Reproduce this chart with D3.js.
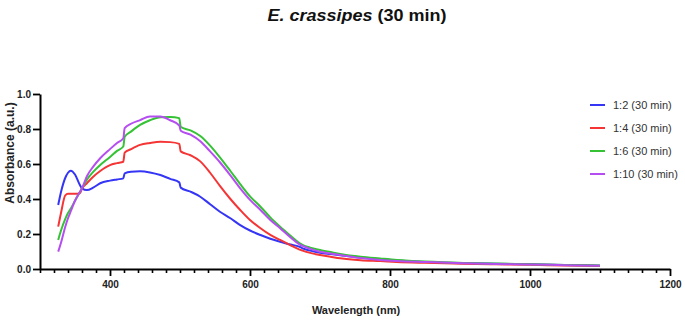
<!DOCTYPE html>
<html>
<head>
<meta charset="utf-8">
<script src="https://cdn.jsdelivr.net/npm/d3@7"></script>
<style>
  body { margin: 0; background: #fff; }
  svg { display: block; font-family: "Liberation Sans", Arial, sans-serif; }
</style>
</head>
<body>
<svg id="chart" width="685" height="322"></svg>
<script>
// wavelengths (nm) shared by all series; steps at 420 and 500 are lamp/detector switch artefacts
const wavelength = [326, 330, 336, 340, 344, 350, 357, 360, 367, 376, 386, 400, 410, 419, 421, 430, 443, 457, 472, 486, 499, 501, 515, 529, 543, 557, 572, 586, 600, 615, 629, 643, 658, 670, 675, 686, 700, 715, 729, 758, 786, 810, 850, 905, 950, 1001, 1050, 1100];

const ratio1to2 = [0.366, 0.44, 0.52, 0.55, 0.562, 0.54, 0.48, 0.461, 0.451, 0.465, 0.49, 0.505, 0.512, 0.518, 0.547, 0.556, 0.558, 0.552, 0.537, 0.515, 0.495, 0.465, 0.442, 0.413, 0.37, 0.327, 0.29, 0.251, 0.22, 0.194, 0.173, 0.156, 0.14, 0.128, 0.118, 0.105, 0.093, 0.085, 0.078, 0.065, 0.055, 0.048, 0.04, 0.033, 0.03, 0.027, 0.023, 0.019];
const ratio1to4 = [0.242, 0.32, 0.42, 0.43, 0.43, 0.43, 0.433, 0.46, 0.49, 0.527, 0.56, 0.594, 0.605, 0.613, 0.665, 0.685, 0.709, 0.72, 0.727, 0.725, 0.715, 0.672, 0.65, 0.615, 0.55, 0.475, 0.40, 0.337, 0.28, 0.233, 0.195, 0.166, 0.135, 0.112, 0.105, 0.092, 0.08, 0.07, 0.061, 0.05, 0.045, 0.04, 0.035, 0.03, 0.027, 0.024, 0.02, 0.017];
const ratio1to6 = [0.166, 0.22, 0.285, 0.32, 0.345, 0.39, 0.44, 0.461, 0.51, 0.555, 0.594, 0.64, 0.675, 0.70, 0.756, 0.785, 0.823, 0.85, 0.867, 0.868, 0.862, 0.812, 0.792, 0.76, 0.705, 0.638, 0.56, 0.485, 0.415, 0.356, 0.295, 0.242, 0.19, 0.15, 0.138, 0.122, 0.109, 0.097, 0.086, 0.07, 0.06, 0.052, 0.043, 0.035, 0.031, 0.027, 0.023, 0.02];
const ratio1to10 = [0.099, 0.15, 0.24, 0.29, 0.33, 0.39, 0.44, 0.461, 0.53, 0.585, 0.633, 0.685, 0.72, 0.747, 0.805, 0.83, 0.851, 0.872, 0.872, 0.85, 0.82, 0.79, 0.768, 0.73, 0.672, 0.61, 0.535, 0.461, 0.395, 0.337, 0.28, 0.233, 0.18, 0.142, 0.132, 0.115, 0.099, 0.089, 0.08, 0.063, 0.052, 0.046, 0.04, 0.033, 0.029, 0.026, 0.022, 0.018];

const seriesNames = ["1:2 (30 min)", "1:4 (30 min)", "1:6 (30 min)", "1:10 (30 min)"];
const seriesColors = ["#3535f5", "#f53535", "#35c235", "#b54ef0"];
const seriesValues = [ratio1to2, ratio1to4, ratio1to6, ratio1to10];

const xMajorTicks = [400, 600, 800, 1000, 1200];
const yTicks = [0, 0.2, 0.4, 0.6, 0.8, 1.0];

const svg = d3.select("#chart");

const x = d3.scaleLinear().domain([300, 1200]).range([40, 670]);
const y = d3.scaleLinear().domain([0, 1]).range([269, 94]);

// title
svg.append("text")
  .attr("x", 357)
  .attr("y", 21)
  .attr("text-anchor", "middle")
  .attr("font-size", 17)
  .attr("font-weight", "bold")
  .attr("fill", "#111")
  .attr("textLength", 179)
  .attr("lengthAdjust", "spacingAndGlyphs")
  .call((t) => {
    t.append("tspan").attr("font-style", "italic").text("E. crassipes");
    t.append("tspan").text(" (30 min)");
  });

// lines
const line = d3.line()
  .x((d) => x(d[0]))
  .y((d) => y(d[1]))
  .curve(d3.curveMonotoneX);

svg.append("g")
  .selectAll("path")
  .data(seriesValues)
  .join("path")
  .attr("fill", "none")
  .attr("stroke", (d, i) => seriesColors[i])
  .attr("stroke-width", 2)
  .attr("stroke-linejoin", "round")
  .attr("d", (vals) => line(vals.map((v, i) => [wavelength[i], v])));

// x axis: minor ticks every 20 nm, labelled majors every 200 nm
const minor = d3.range(300, 1201, 20).filter((v) => !xMajorTicks.includes(v));
svg.append("g")
  .attr("transform", "translate(0,269)")
  .call(d3.axisBottom(x).tickValues(minor).tickSize(4).tickFormat(""))
  .call((g) => g.select(".domain").remove())
  .call((g) => g.selectAll("line").attr("stroke", "#000").attr("stroke-width", 1.6));

const xAxis = svg.append("g")
  .attr("transform", "translate(0,269)")
  .call(d3.axisBottom(x).tickValues(xMajorTicks).tickSize(7).tickPadding(5).tickSizeOuter(0).tickFormat(d3.format("d")));
xAxis.select(".domain").attr("stroke", "#000").attr("stroke-width", 2);
xAxis.selectAll(".tick line").attr("stroke", "#000").attr("stroke-width", 1.8);
xAxis.selectAll(".tick text")
  .attr("font-size", 10)
  .attr("font-weight", "bold")
  .attr("fill", "#222");

// y axis
const yAxis = svg.append("g")
  .attr("transform", "translate(40,0)")
  .call(d3.axisLeft(y).tickValues(yTicks).tickSize(7).tickPadding(2).tickSizeOuter(0).tickFormat(d3.format(".1f")));
yAxis.select(".domain").attr("stroke", "#000").attr("stroke-width", 2);
yAxis.selectAll(".tick line").attr("stroke", "#000").attr("stroke-width", 1.8);
yAxis.selectAll(".tick text")
  .attr("font-size", 10)
  .attr("font-weight", "bold")
  .attr("fill", "#222");

// axis titles
svg.append("text")
  .attr("x", 356)
  .attr("y", 314)
  .attr("text-anchor", "middle")
  .attr("font-size", 11)
  .attr("font-weight", "bold")
  .attr("fill", "#222")
  .text("Wavelength (nm)");

svg.append("text")
  .attr("transform", "translate(14,153) rotate(-90)")
  .attr("text-anchor", "middle")
  .attr("font-size", 12)
  .attr("font-weight", "bold")
  .attr("fill", "#222")
  .text("Absorbance (a.u.)");

// legend
const legend = svg.append("g")
  .selectAll("g")
  .data(seriesNames)
  .join("g")
  .attr("transform", (d, i) => `translate(590,${105 + i * 23})`);

legend.append("line")
  .attr("x1", 0)
  .attr("x2", 15)
  .attr("stroke", (d, i) => seriesColors[i])
  .attr("stroke-width", 2);

legend.append("text")
  .attr("x", 23)
  .attr("dy", "0.35em")
  .attr("font-size", 11)
  .attr("fill", "#333")
  .text((d) => d);
</script>
</body>
</html>
